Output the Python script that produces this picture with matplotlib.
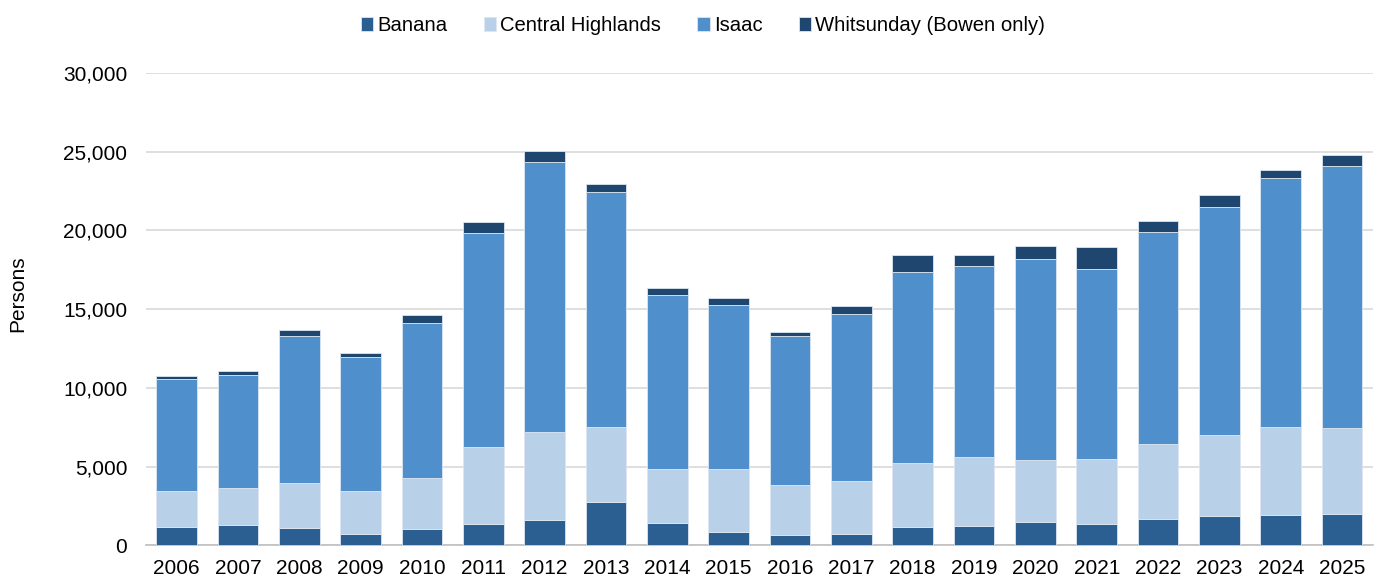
import matplotlib
matplotlib.use("Agg")
import matplotlib.pyplot as plt
import numpy as np

years = ["2006", "2007", "2008", "2009", "2010", "2011", "2012", "2013", "2014", "2015",
         "2016", "2017", "2018", "2019", "2020", "2021", "2022", "2023", "2024", "2025"]
banana = [1150, 1270, 1100, 740, 1020, 1350, 1590, 2770, 1420, 860,
          670, 720, 1160, 1250, 1500, 1370, 1670, 1840, 1950, 1990]
central_highlands = [2320, 2370, 2860, 2690, 3240, 4880, 5590, 4750, 3410, 4010,
                     3160, 3390, 4070, 4380, 3900, 4110, 4790, 5150, 5570, 5470]
isaac = [7120, 7200, 9360, 8560, 9890, 13580, 17140, 14940, 11080, 10390,
         9450, 10580, 12100, 12120, 12790, 12080, 13410, 14510, 15830, 16630]
whitsunday = [170, 250, 340, 250, 490, 740, 740, 460, 460, 440,
              290, 480, 1110, 680, 810, 1400, 700, 720, 510, 670]

series_names = ["Banana", "Central Highlands", "Isaac", "Whitsunday (Bowen only)"]
colors = ["#2B5F91", "#B8D1E9", "#4F8FCC", "#1F466F"]

plt.rcParams['font.family'] = ['Liberation Sans', 'DejaVu Sans']

fig = plt.figure(figsize=(13.81, 5.81), dpi=100)
ax = fig.add_axes([0.1057, 0.0614, 0.8883, 0.813])

x = np.arange(len(years))
bottom = np.zeros(len(years))
for name, vals, c in zip(series_names, [banana, central_highlands, isaac, whitsunday], colors):
    vals = np.array(vals, dtype=float)
    ax.bar(x, vals, 0.66, bottom=bottom, color=c, label=name,
           edgecolor="#DCE6F2", linewidth=0.6, zorder=3)
    bottom += vals

ax.set_xlim(-0.5, len(years) - 0.5)
ax.set_ylim(0, 30000)
ax.set_yticks(np.arange(0, 30001, 5000))
ax.set_yticklabels([f"{v:,}" for v in range(0, 30001, 5000)])
ax.set_xticks(x)
ax.set_xticklabels(years)
ax.tick_params(axis='both', length=0, labelsize=15, colors="#000000")
ax.tick_params(axis='y', pad=13.5)
ax.tick_params(axis='x', pad=10)
ax.yaxis.grid(True, color="#D9D9D9", linewidth=1.2, zorder=0)
ax.set_axisbelow(True)
for s in ["top", "right", "left"]:
    ax.spines[s].set_visible(False)
ax.spines["bottom"].set_color("#BFBFBF")
ax.spines["bottom"].set_linewidth(1.2)

ax.set_ylabel("Persons", fontsize=15)
ax.yaxis.set_label_coords(-0.097, 0.532)

leg = fig.legend(loc="center", bbox_to_anchor=(0.509, 0.9555), ncol=4, frameon=False,
                 fontsize=14.6, handlelength=0.6, handleheight=0.7, handletextpad=0.2,
                 columnspacing=1.8)

fig.savefig("out.png", dpi=100)
